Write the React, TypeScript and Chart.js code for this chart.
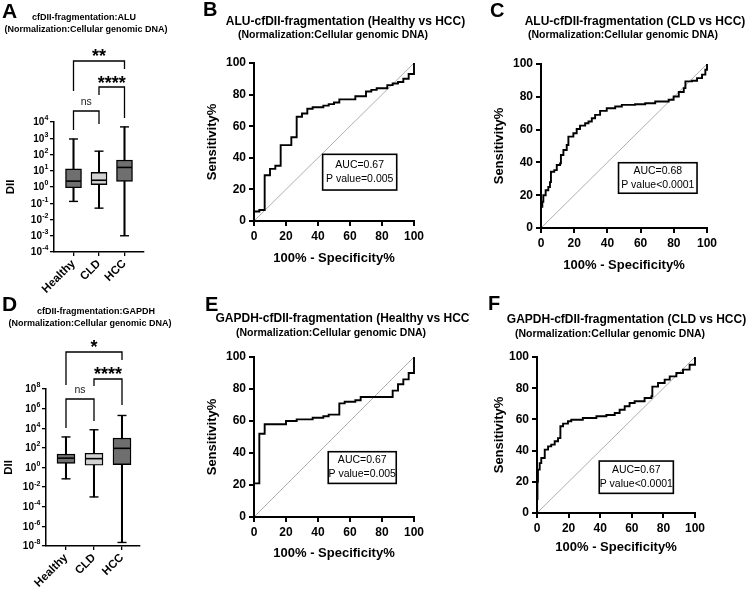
import React, { useEffect, useRef } from "react";
import { Chart, registerables } from "chart.js";

Chart.register(...registerables);

const FONT = "Arial, 'Liberation Sans', Helvetica, sans-serif";

// ---------------- Box plot data ----------------
const groups = ["Healthy", "CLD", "HCC"];
const groupColors = ["#6f6f6f", "#d2d2d2", "#6f6f6f"];

const aluMin = [0.13, 0.05, 0.001];
const aluQ1 = [0.9, 1.4, 2.2];
const aluMedian = [2.3, 2.6, 16];
const aluQ3 = [13, 8, 45];
const aluMax = [900, 160, 5000];

const gapdhMin = [0.07, 0.001, 2.3e-8];
const gapdhQ1 = [2.6, 1.7, 2];
const gapdhMedian = [9, 8, 90];
const gapdhQ3 = [23, 28, 1000];
const gapdhMax = [1300, 7000, 2e5];

const aluTicks = [1e-4, 1e-3, 1e-2, 1e-1, 1, 10, 100, 1e3, 1e4];
const aluTickExponents = ["-4", "-3", "-2", "-1", "0", "1", "2", "3", "4"];
const gapdhTicks = [1e-8, 1e-6, 1e-4, 1e-2, 1, 1e2, 1e4, 1e6, 1e8];
const gapdhTickExponents = ["-8", "-6", "-4", "-2", "0", "2", "4", "6", "8"];

const aluSigPairs = [[0, 2], [1, 2], [0, 1]];
const aluSigLabels = ["**", "****", "ns"];
const gapdhSigPairs = [[0, 2], [1, 2], [0, 1]];
const gapdhSigLabels = ["*", "****", "ns"];

// ---------------- ROC data (x = 100% - Specificity%, y = Sensitivity%) ----------------
const rocTicks = [0, 20, 40, 60, 80, 100];
const diagonalX = [0, 100];
const diagonalY = [0, 100];

const aluHealthyFpr = [0, 0, 3.33, 6.67, 10, 13.33, 16.67, 20, 23.33, 26.67, 30, 33.33, 36.67, 40, 43.33, 46.67, 50, 53.33, 56.67, 60, 63.33, 66.67, 70, 73.33, 76.67, 80, 83.33, 86.67, 90, 93.33, 96.67, 100, 100];
const aluHealthyTpr = [0, 6, 7, 29, 33, 35, 48, 48, 53, 66, 68, 71, 72, 72, 73, 74, 75, 77, 77, 77, 79, 79, 82, 83, 84, 84, 86, 87, 88, 90, 93, 96, 100];

const aluCldFpr = [0, 0, 0.8, 1.4, 2.8, 4.4, 5.4, 6, 8, 9.5, 11.5, 12, 13.5, 15.5, 16.5, 19.5, 21.5, 23.5, 26.6, 28.6, 30.6, 32.6, 35.6, 39.6, 44.7, 48.7, 56.7, 62.8, 68.8, 76.9, 79.9, 83, 86, 87, 91, 94, 97, 99, 100, 100];
const aluCldTpr = [0, 12.9, 16, 20, 23, 25, 28, 34.3, 35.3, 38.4, 39.4, 44.5, 47.6, 50.6, 55.7, 57.8, 60.4, 62.4, 63.9, 64.9, 66.9, 69, 71.4, 73, 74.1, 75.1, 75.5, 76.1, 77.1, 78.2, 80.2, 82.9, 85.3, 89.4, 89.8, 91.4, 93.5, 96.5, 97, 100];

const gapdhHealthyFpr = [0, 0, 3.33, 6.67, 10, 13.33, 16.67, 20, 23.33, 26.67, 30, 33.33, 36.67, 40, 43.33, 46.67, 50, 53.33, 56.67, 60, 63.33, 66.67, 70, 73.33, 76.67, 80, 83.33, 86.67, 90, 93.33, 96.67, 100, 100];
const gapdhHealthyTpr = [0, 21, 52, 58, 58, 58, 58, 60, 60, 61, 61, 61, 62, 62, 63, 64, 64, 71, 72, 72, 73, 75, 75, 75, 75, 75, 75, 79, 83, 86, 90, 94, 100];

const gapdhCldFpr = [0, 0, 0.3, 0.6, 1.7, 2.7, 4.9, 7, 9, 11.2, 13.3, 14.8, 16.5, 19.6, 21.7, 29, 37.6, 43.9, 49.2, 52.3, 55.5, 58.6, 61.8, 68.1, 72.4, 73, 76.6, 80.8, 84, 88.2, 92.4, 96.6, 100, 100];
const gapdhCldTpr = [0, 9, 20, 27.8, 32, 35.3, 40.6, 42.7, 43.8, 46, 48, 55.6, 57.3, 58.8, 59.8, 60.9, 62, 62.8, 64.1, 66.2, 68.4, 70.5, 71.6, 73.7, 74.8, 81, 83.3, 85.5, 87.6, 89.7, 91.9, 95, 96, 100];

const aluHealthyAuc = ["AUC=0.67", "P value=0.005"];
const aluCldAuc = ["AUC=0.68", "P value<0.0001"];
const gapdhHealthyAuc = ["AUC=0.67", "P value=0.005"];
const gapdhCldAuc = ["AUC=0.67", "P value<0.0001"];

// ---------------- helpers ----------------
type TextItem = { text: string; x: number; y: number; size: number; bold?: boolean; align?: CanvasTextAlign };
type Area = { l: number; r: number; t: number; b: number };

function textPlugin(items: TextItem[]) {
  return {
    id: "panelTexts",
    afterDraw(chart: any) {
      const ctx = chart.ctx;
      ctx.save();
      ctx.fillStyle = "#000";
      ctx.textBaseline = "middle";
      for (const it of items) {
        ctx.font = `${it.bold === false ? "" : "bold "}${it.size}px ${FONT}`;
        ctx.textAlign = it.align || "center";
        ctx.fillText(it.text, it.x, it.y);
      }
      ctx.restore();
    },
  };
}

// log-axis labels "10" with a raised exponent, placed through the y scale
function powerLabelPlugin(values: number[], exponents: string[]) {
  return {
    id: "powerLabels",
    afterDraw(chart: any) {
      const { ctx, chartArea } = chart;
      const ys = chart.scales.y;
      const xr = chartArea.left - 4 - 1.5;
      ctx.save();
      ctx.fillStyle = "#000";
      ctx.textAlign = "right";
      ctx.textBaseline = "middle";
      values.forEach((v, i) => {
        const y = ys.getPixelForValue(v);
        ctx.font = `bold 7px ${FONT}`;
        const w = ctx.measureText(exponents[i]).width;
        ctx.fillText(exponents[i], xr, y - 3.5);
        ctx.font = `bold 10px ${FONT}`;
        ctx.fillText("10", xr - w - 0.3, y + 0.5);
      });
      ctx.restore();
    },
  };
}

type BracketGeo = { text: number; bar: number; legA: number; legB: number };

function bracketPlugin(pairs: number[][], labels: string[], geo: BracketGeo[]) {
  return {
    id: "sigBrackets",
    afterDraw(chart: any) {
      const { ctx, chartArea } = chart;
      const xs = chart.scales.x;
      const top = chartArea.top;
      ctx.save();
      ctx.strokeStyle = "#000";
      ctx.fillStyle = "#000";
      ctx.lineWidth = 1.3;
      pairs.forEach((p, k) => {
        const g = geo[k];
        const xa = xs.getPixelForValue(p[0] + 1);
        const xb = xs.getPixelForValue(p[1] + 1);
        ctx.beginPath();
        ctx.moveTo(xa, top + g.legA);
        ctx.lineTo(xa, top + g.bar);
        ctx.lineTo(xb, top + g.bar);
        ctx.lineTo(xb, top + g.legB);
        ctx.stroke();
        const lab = labels[k];
        ctx.textAlign = "center";
        if (lab === "ns") {
          ctx.font = `10.5px ${FONT}`;
          ctx.fillStyle = "#222";
          ctx.textBaseline = "middle";
          ctx.fillText(lab, (xa + xb) / 2, top + g.text);
        } else {
          ctx.font = `bold 18px ${FONT}`;
          ctx.fillStyle = "#000";
          ctx.textBaseline = "alphabetic";
          ctx.fillText(lab, (xa + xb) / 2, top + g.text + 10);
        }
      });
      ctx.restore();
    },
  };
}

function aucPlugin(lines: string[], box: { x0: number; x1: number; y0: number; y1: number }) {
  return {
    id: "aucBox",
    afterDatasetsDraw(chart: any) {
      const { ctx } = chart;
      const xs = chart.scales.x;
      const ys = chart.scales.y;
      const l = xs.getPixelForValue(box.x0);
      const r = xs.getPixelForValue(box.x1);
      const t = ys.getPixelForValue(box.y1);
      const b = ys.getPixelForValue(box.y0);
      ctx.save();
      ctx.fillStyle = "#fff";
      ctx.fillRect(l, t, r - l, b - t);
      ctx.strokeStyle = "#000";
      ctx.lineWidth = 1.6;
      ctx.strokeRect(l, t, r - l, b - t);
      ctx.fillStyle = "#000";
      ctx.font = `10.5px ${FONT}`;
      ctx.textAlign = "center";
      ctx.textBaseline = "middle";
      const cx = (l + r) / 2;
      const cy = (t + b) / 2;
      lines.forEach((s, i) => ctx.fillText(s, cx, cy + (i - (lines.length - 1) / 2) * 14));
      ctx.restore();
    },
  };
}

type BoxSpec = {
  width: number;
  height: number;
  area: Area;
  mins: number[];
  q1: number[];
  med: number[];
  q3: number[];
  maxs: number[];
  yMin: number;
  yMax: number;
  ticks: number[];
  exponents: string[];
  xMin: number;
  xMax: number;
  boxW: number;
  yTitlePad: number;
  pairs: number[][];
  labels: string[];
  geo: BracketGeo[];
  texts: TextItem[];
};

function boxConfig(s: BoxSpec): any {
  const xs = groups.map((_, i) => i + 1);
  const xTickFont = { family: FONT, size: 11.5, weight: "bold" };
  const grid = { display: true, drawOnChartArea: false, drawTicks: true, tickLength: 4, color: "#000", lineWidth: 1.3, offset: false };
  const border = { display: true, color: "#000", width: 1.5 };
  return {
    type: "scatter",
    data: {
      datasets: [
        {
          type: "bar",
          data: xs.map((x, i) => ({ x, y: [s.mins[i], s.maxs[i]] })),
          backgroundColor: "#000",
          borderWidth: 0,
          barThickness: 1.4,
          grouped: false,
          order: 3,
        },
        {
          type: "bar",
          data: xs.map((x, i) => ({ x, y: [s.q1[i], s.q3[i]] })),
          backgroundColor: groupColors,
          borderColor: "#000",
          borderWidth: 1.4,
          borderSkipped: false,
          barThickness: s.boxW,
          grouped: false,
          order: 2,
        },
        {
          type: "scatter",
          data: xs.flatMap((x, i) => [
            { x, y: s.mins[i] },
            { x, y: s.maxs[i] },
          ]),
          pointStyle: "line",
          pointRadius: 4.5,
          pointBorderWidth: 1.4,
          pointBorderColor: "#000",
          pointBackgroundColor: "#000",
          order: 1,
        },
        {
          type: "scatter",
          data: xs.map((x, i) => ({ x, y: s.med[i] })),
          pointStyle: "line",
          pointRadius: s.boxW / 2 - 0.6,
          pointBorderWidth: 1.6,
          pointBorderColor: "#000",
          pointBackgroundColor: "#000",
          order: 0,
        },
      ],
    },
    options: {
      responsive: false,
      maintainAspectRatio: false,
      animation: false,
      events: [],
      devicePixelRatio: 1,
      layout: { padding: { left: 0, right: s.width - s.area.r, top: s.area.t, bottom: 0 } },
      plugins: { legend: { display: false }, tooltip: { enabled: false }, title: { display: false } },
      scales: {
        x: {
          type: "linear",
          min: s.xMin,
          max: s.xMax,
          offset: false,
          stacked: false,
          afterBuildTicks: (sc: any) => {
            sc.ticks = xs.map((v) => ({ value: v }));
          },
          afterFit: (sc: any) => {
            sc.height = s.height - s.area.b;
          },
          ticks: {
            callback: (_v: any, i: number) => groups[i],
            font: xTickFont,
            color: "#000",
            minRotation: 45,
            maxRotation: 45,
            padding: 1,
            autoSkip: false,
          },
          grid,
          border,
        },
        y: {
          type: "logarithmic",
          min: s.yMin,
          max: s.yMax,
          stacked: false,
          beginAtZero: false,
          afterBuildTicks: (sc: any) => {
            sc.ticks = s.ticks.map((v) => ({ value: v }));
          },
          afterFit: (sc: any) => {
            sc.width = s.area.l;
          },
          ticks: { display: false, autoSkip: false },
          grid,
          border,
          title: {
            display: true,
            text: "DII",
            color: "#000",
            font: { family: FONT, size: 11.5, weight: "bold" },
            padding: { top: s.yTitlePad, bottom: 0 },
          },
        },
      },
    },
    plugins: [powerLabelPlugin(s.ticks, s.exponents), bracketPlugin(s.pairs, s.labels, s.geo), textPlugin(s.texts)],
  };
}

type RocSpec = {
  width: number;
  height: number;
  area: Area;
  padL: number;
  xTitlePad: number;
  fpr: number[];
  tpr: number[];
  auc: string[];
  box: { x0: number; x1: number; y0: number; y1: number };
  texts: TextItem[];
};

function rocConfig(s: RocSpec): any {
  const tickFont = { family: FONT, size: 12, weight: "bold" };
  const titleFont = { family: FONT, size: 13, weight: "bold" };
  const grid = { display: true, drawOnChartArea: false, drawTicks: true, tickLength: 5, color: "#000", lineWidth: 2 };
  const border = { display: true, color: "#000", width: 2 };
  const ticks = { font: tickFont, color: "#000", padding: 3, autoSkip: false, maxRotation: 0, callback: (v: any) => String(v) };
  return {
    type: "scatter",
    data: {
      datasets: [
        {
          data: s.fpr.map((x, i) => ({ x, y: s.tpr[i] })),
          showLine: true,
          stepped: "before",
          borderColor: "#000",
          borderWidth: 1.9,
          pointRadius: 0,
          clip: 6,
          order: 0,
        },
        {
          data: diagonalX.map((x, i) => ({ x, y: diagonalY[i] })),
          showLine: true,
          borderColor: "#9a9a9a",
          borderWidth: 0.8,
          pointRadius: 0,
          order: 1,
        },
      ],
    },
    options: {
      responsive: false,
      maintainAspectRatio: false,
      animation: false,
      events: [],
      devicePixelRatio: 1,
      layout: { padding: { left: s.padL, right: s.width - s.area.r, top: s.area.t, bottom: 0 } },
      plugins: { legend: { display: false }, tooltip: { enabled: false }, title: { display: false } },
      scales: {
        x: {
          type: "linear",
          min: 0,
          max: 100,
          afterBuildTicks: (sc: any) => {
            sc.ticks = rocTicks.map((v) => ({ value: v }));
          },
          afterFit: (sc: any) => {
            sc.height = s.height - s.area.b;
          },
          ticks,
          grid,
          border,
          title: {
            display: true,
            text: "100% - Specificity%",
            color: "#000",
            font: titleFont,
            padding: { top: 0, bottom: s.xTitlePad },
          },
        },
        y: {
          type: "linear",
          min: 0,
          max: 100,
          afterBuildTicks: (sc: any) => {
            sc.ticks = rocTicks.map((v) => ({ value: v }));
          },
          afterFit: (sc: any) => {
            sc.width = s.area.l - s.padL;
          },
          ticks,
          grid,
          border,
          title: {
            display: true,
            text: "Sensitivity%",
            color: "#000",
            font: titleFont,
            padding: { top: 4, bottom: 0 },
          },
        },
      },
    },
    plugins: [aucPlugin(s.auc, s.box), textPlugin(s.texts)],
  };
}

function ChartCanvas(props: { left: number; top: number; width: number; height: number; make: () => any }) {
  const ref = useRef<HTMLCanvasElement | null>(null);
  useEffect(() => {
    if (!ref.current) return;
    const chart = new Chart(ref.current, props.make());
    return () => chart.destroy();
  }, []);
  return (
    <canvas
      ref={ref}
      width={props.width}
      height={props.height}
      style={{ position: "absolute", left: props.left, top: props.top, width: props.width, height: props.height }}
    />
  );
}

const SUB = "(Normalization:Cellular genomic DNA)";

export default function App() {
  return (
    <div style={{ position: "absolute", left: 0, top: 0, width: 748, height: 592, background: "#fff", overflow: "hidden" }}>
      {/* A */}
      <ChartCanvas
        left={0}
        top={0}
        width={195}
        height={296}
        make={() =>
          boxConfig({
            width: 195,
            height: 296,
            area: { l: 54, r: 144, t: 122, b: 252 },
            mins: aluMin,
            q1: aluQ1,
            med: aluMedian,
            q3: aluQ3,
            maxs: aluMax,
            yMin: 1e-4,
            yMax: 1e4,
            ticks: aluTicks,
            exponents: aluTickExponents,
            xMin: 0.235,
            xMax: 3.765,
            boxW: 16,
            yTitlePad: 4,
            pairs: aluSigPairs,
            labels: aluSigLabels,
            geo: [
              { text: -70, bar: -61, legA: -31, legB: -53 },
              { text: -43, bar: -35, legA: -27, legB: -4 },
              { text: -20, bar: -11, legA: 8, legB: 2 },
            ],
            texts: [
              { text: "A", x: 2, y: 12, size: 21, align: "left" },
              { text: "cfDII-fragmentation:ALU", x: 84, y: 18, size: 9 },
              { text: SUB, x: 86, y: 30, size: 9 },
            ],
          })
        }
      />
      {/* D */}
      <ChartCanvas
        left={0}
        top={290}
        width={195}
        height={302}
        make={() =>
          boxConfig({
            width: 195,
            height: 302,
            area: { l: 46, r: 140, t: 99, b: 256 },
            mins: gapdhMin,
            q1: gapdhQ1,
            med: gapdhMedian,
            q3: gapdhQ3,
            maxs: gapdhMax,
            yMin: 1e-8,
            yMax: 1e8,
            ticks: gapdhTicks,
            exponents: gapdhTickExponents,
            xMin: 0.286,
            xMax: 3.643,
            boxW: 18,
            yTitlePad: 2,
            pairs: gapdhSigPairs,
            labels: gapdhSigLabels,
            geo: [
              { text: -46, bar: -37, legA: -4, legB: -29 },
              { text: -19, bar: -10, legA: -3, legB: 16 },
              { text: 1, bar: 10, legA: 39, legB: 32 },
            ],
            texts: [
              { text: "D", x: 2, y: 15, size: 21, align: "left" },
              { text: "cfDII-fragmentation:GAPDH", x: 96, y: 22, size: 9 },
              { text: SUB, x: 90, y: 34, size: 9 },
            ],
          })
        }
      />
      {/* B */}
      <ChartCanvas
        left={195}
        top={0}
        width={285}
        height={290}
        make={() =>
          rocConfig({
            width: 285,
            height: 290,
            area: { l: 59, r: 219, t: 63, b: 221 },
            padL: 6,
            xTitlePad: 24,
            fpr: aluHealthyFpr,
            tpr: aluHealthyTpr,
            auc: aluHealthyAuc,
            box: { x0: 42.9, x1: 89.2, y0: 19.6, y1: 42.2 },
            texts: [
              { text: "B", x: 8, y: 10, size: 20, align: "left" },
              { text: "ALU-cfDII-fragmentation (Healthy vs HCC)", x: 150.5, y: 22, size: 12 },
              { text: SUB, x: 138, y: 35, size: 10.5 },
            ],
          })
        }
      />
      {/* C */}
      <ChartCanvas
        left={480}
        top={0}
        width={268}
        height={290}
        make={() =>
          rocConfig({
            width: 268,
            height: 290,
            area: { l: 61, r: 227, t: 64, b: 228 },
            padL: 8,
            xTitlePad: 17,
            fpr: aluCldFpr,
            tpr: aluCldTpr,
            auc: aluCldAuc,
            box: { x0: 46.7, x1: 94, y0: 21.2, y1: 39.8 },
            texts: [
              { text: "C", x: 10, y: 11, size: 20, align: "left" },
              { text: "ALU-cfDII-fragmentation (CLD vs HCC)", x: 155, y: 22, size: 12 },
              { text: SUB, x: 143, y: 35, size: 10.5 },
            ],
          })
        }
      />
      {/* E */}
      <ChartCanvas
        left={195}
        top={290}
        width={275}
        height={302}
        make={() =>
          rocConfig({
            width: 275,
            height: 302,
            area: { l: 59, r: 219, t: 67, b: 227 },
            padL: 6,
            xTitlePad: 31,
            fpr: gapdhHealthyFpr,
            tpr: gapdhHealthyTpr,
            auc: gapdhHealthyAuc,
            box: { x0: 46.4, x1: 88.9, y0: 21, y1: 40.8 },
            texts: [
              { text: "E", x: 10, y: 15, size: 20, align: "left" },
              { text: "GAPDH-cfDII-fragmentation (Healthy vs HCC)", x: 149.5, y: 29, size: 12 },
              { text: SUB, x: 136, y: 43, size: 10.5 },
            ],
          })
        }
      />
      {/* F */}
      <ChartCanvas
        left={470}
        top={290}
        width={278}
        height={302}
        make={() =>
          rocConfig({
            width: 278,
            height: 302,
            area: { l: 67, r: 225, t: 67, b: 223 },
            padL: 18,
            xTitlePad: 37,
            fpr: gapdhCldFpr,
            tpr: gapdhCldTpr,
            auc: gapdhCldAuc,
            box: { x0: 39.4, x1: 86.3, y0: 12.6, y1: 33.3 },
            texts: [
              { text: "F", x: 18, y: 14, size: 20, align: "left" },
              { text: "GAPDH-cfDII-fragmentation (CLD vs HCC)", x: 156.5, y: 30, size: 12 },
              { text: SUB, x: 140, y: 44, size: 10.5 },
            ],
          })
        }
      />
    </div>
  );
}
